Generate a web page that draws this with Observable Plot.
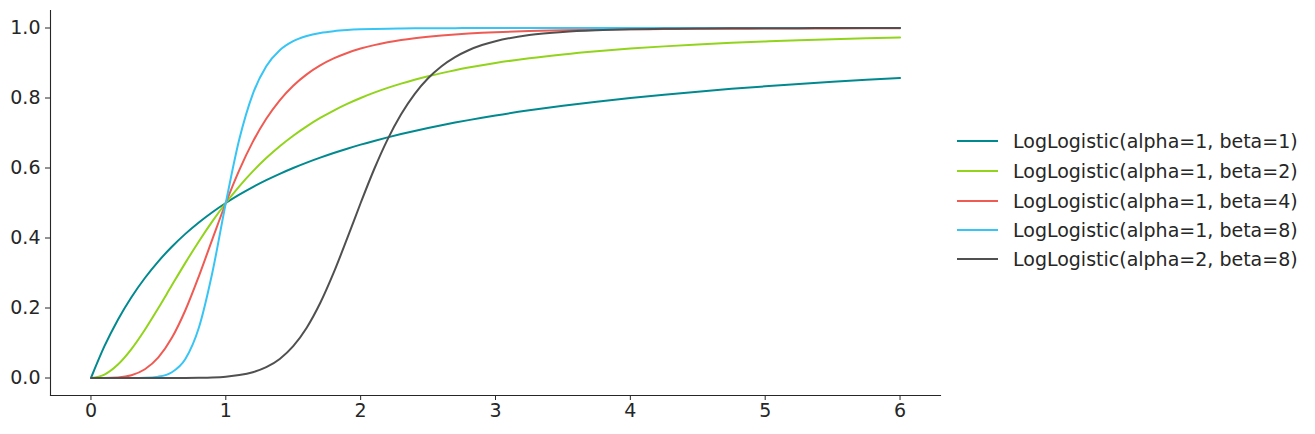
<!DOCTYPE html>
<html>
<head>
<meta charset="utf-8">
<script src="https://cdn.jsdelivr.net/npm/d3@7"></script>
<script src="https://cdn.jsdelivr.net/npm/@observablehq/plot@0.6"></script>
<style>
  html, body { margin: 0; padding: 0; background: #fff; }
  #wrap { position: relative; width: 1315px; height: 434px; font-family: "DejaVu Sans", sans-serif; }
  #chart { position: absolute; left: 0; top: 0; }
  #legend { position: absolute; left: 957px; top: 0; }
  .item { position: absolute; left: 0; height: 22px; white-space: nowrap; display: flex; align-items: center; }
  .swatch { width: 41px; height: 2px; margin-right: 15px; }
  .label { font-family: "DejaVu Sans", sans-serif; font-size: 19px; color: #262626; }
</style>
</head>
<body>
<div id="wrap"><div id="chart"></div><div id="legend"></div></div>
<script>
const seriesNames = [
  "LogLogistic(alpha=1, beta=1)",
  "LogLogistic(alpha=1, beta=2)",
  "LogLogistic(alpha=1, beta=4)",
  "LogLogistic(alpha=1, beta=8)",
  "LogLogistic(alpha=2, beta=8)"
];
const colors = ["#00898f", "#91d41b", "#ef5b53", "#36c5f4", "#505050"];

const xs = [0,0.1,0.2,0.3,0.4,0.5,0.6,0.7,0.8,0.9,1.0,1.1,1.2,1.3,1.4,1.5,1.6,1.7,1.8,1.9,2.0,2.1,2.2,2.3,2.4,2.5,2.6,2.7,2.8,2.9,3.0,3.25,3.5,3.75,4.0,4.25,4.5,4.75,5.0,5.25,5.5,5.75,6.0];

const y_a1_b1 = [0,0.0909,0.1667,0.2308,0.2857,0.3333,0.375,0.4118,0.4444,0.4737,0.5,0.5238,0.5455,0.5652,0.5833,0.6,0.6154,0.6296,0.6429,0.6552,0.6667,0.6774,0.6875,0.697,0.7059,0.7143,0.7222,0.7297,0.7368,0.7436,0.75,0.7647,0.7778,0.7895,0.8,0.8095,0.8182,0.8261,0.8333,0.84,0.8462,0.8519,0.8571];
const y_a1_b2 = [0,0.0099,0.0385,0.0826,0.1379,0.2,0.2647,0.3289,0.3902,0.4475,0.5,0.5475,0.5902,0.6283,0.6622,0.6923,0.7191,0.7429,0.7642,0.7831,0.8,0.8152,0.8288,0.841,0.8521,0.8621,0.8711,0.8794,0.8869,0.8937,0.9,0.9135,0.9245,0.9336,0.9412,0.9475,0.9529,0.9576,0.9615,0.965,0.968,0.9706,0.973];
const y_a1_b4 = [0,0.0001,0.0016,0.008,0.025,0.0588,0.1147,0.1936,0.2906,0.3962,0.5,0.5942,0.6747,0.7407,0.7935,0.8351,0.8676,0.8931,0.913,0.9287,0.9412,0.9511,0.9591,0.9655,0.9707,0.975,0.9786,0.9815,0.984,0.9861,0.9878,0.9911,0.9934,0.995,0.9961,0.9969,0.9976,0.998,0.9984,0.9987,0.9989,0.9991,0.9992];
const y_a1_b8 = [0,0,0,0.0001,0.0007,0.0039,0.0165,0.0545,0.1437,0.3009,0.5,0.6819,0.8113,0.8908,0.9365,0.9624,0.9772,0.9859,0.991,0.9941,0.9961,0.9974,0.9982,0.9987,0.9991,0.9993,0.9995,0.9996,0.9997,0.9998,0.9998,0.9999,1,1,1,1,1,1,1,1,1,1,1];
const y_a2_b8 = [0,0,0,0,0,0,0.0001,0.0002,0.0007,0.0017,0.0039,0.0083,0.0165,0.0309,0.0545,0.091,0.1437,0.2141,0.3009,0.3988,0.5,0.5964,0.6819,0.7536,0.8113,0.8563,0.8908,0.9169,0.9365,0.9513,0.9624,0.9798,0.9888,0.9935,0.9961,0.9976,0.9985,0.999,0.9993,0.9996,0.9997,0.9998,0.9998];

const yTicks = [0, 0.2, 0.4, 0.6, 0.8, 1.0];
const xTicks = [0, 1, 2, 3, 4, 5, 6];

const allY = [y_a1_b1, y_a1_b2, y_a1_b4, y_a1_b8, y_a2_b8];
const data = allY.flatMap((ys, i) => xs.map((x, j) => ({x, y: ys[j], s: seriesNames[i]})));

const axisColor = "#262626";
const chart = Plot.plot({
  width: 945,
  height: 434,
  marginLeft: 50,
  marginRight: 5,
  marginTop: 10,
  marginBottom: 39,
  style: {fontFamily: "DejaVu Sans, sans-serif", fontSize: "19px", color: axisColor, background: "transparent"},
  x: {domain: [-0.3, 6.3], label: null},
  y: {domain: [-0.05, 1.05], label: null},
  color: {domain: seriesNames, range: colors},
  marks: [
    Plot.axisX({ticks: xTicks, tickFormat: d => String(d), tickSize: 5, tickPadding: 3, label: null, stroke: axisColor, fill: axisColor, fontSize: 19}),
    Plot.axisY({ticks: yTicks, tickFormat: d => d.toFixed(1), tickSize: 5, tickPadding: 5, label: null, stroke: axisColor, fill: axisColor, fontSize: 19}),
    Plot.frame({anchor: "left", stroke: axisColor, strokeWidth: 1.1}),
    Plot.frame({anchor: "bottom", stroke: axisColor, strokeWidth: 1.1}),
    Plot.line(data, {x: "x", y: "y", z: "s", stroke: "s", strokeWidth: 2, curve: "monotone-x"})
  ]
});
document.getElementById("chart").appendChild(chart);

const legend = document.getElementById("legend");
const rowY = [141, 171, 201, 230, 259];
seriesNames.forEach((name, i) => {
  const item = document.createElement("div");
  item.className = "item";
  item.style.top = (rowY[i] - 11) + "px";
  const sw = document.createElement("div");
  sw.className = "swatch";
  sw.style.background = colors[i];
  const lb = document.createElement("span");
  lb.className = "label";
  lb.textContent = name;
  item.appendChild(sw);
  item.appendChild(lb);
  legend.appendChild(item);
});
</script>
</body>
</html>
